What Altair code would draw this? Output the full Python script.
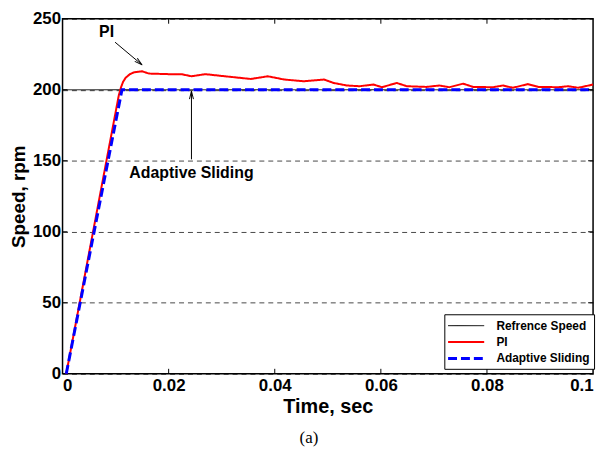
import altair as alt
import pandas as pd

# ---- data ----
ref_t = [0.0, 0.1]
ref_v = [200, 200]

pi_t = [0.0007, 0.0106, 0.0110, 0.0114, 0.0119, 0.0127, 0.0135, 0.015, 0.0163, 0.02, 0.0224, 0.0243,
        0.0269, 0.0306, 0.0355, 0.0387, 0.0418, 0.0455, 0.0493, 0.0511, 0.0536, 0.056,
        0.0586, 0.0602, 0.063, 0.0649, 0.0686, 0.071, 0.0729, 0.0755, 0.0774, 0.0811,
        0.083, 0.0849, 0.0877, 0.0897, 0.0935, 0.0953, 0.0972, 0.1]
pi_v = [0, 196, 201.5, 205.5, 208.5, 211, 212.3, 213, 211.4, 211, 211, 209.5,
        211, 209.5, 207.6, 209.5, 207.2, 206, 207.2, 204.8, 203, 202.5,
        203.7, 201.8, 204.8, 202.5, 202, 203, 201.8, 204.3, 202, 201.8,
        203, 201.4, 204, 202, 201.8, 202.5, 201.4, 203.7]

as_t = [0.0007, 0.0112, 0.1]
as_v = [0, 200, 200]

series_names = ["Refrence Speed", "PI", "Adaptive Sliding"]
series_colors = ["black", "#ff0000", "#0000ff"]
series_dash = [[1, 0], [1, 0], [9, 4]]
series_width = [1, 3, 3]

x_ticks = [0.02, 0.04, 0.06, 0.08]
y_ticks = [50, 100, 150, 200]

# annotations (data units)
ann_text = ["PI", "Adaptive Sliding"]
ann_text_t = [0.0083, 0.0243]
ann_text_v = [241, 141.5]
arrow_t0 = [0.0099, 0.0243]
arrow_v0 = [233.5, 151]
arrow_t1 = [0.0150, 0.0243]
arrow_v1 = [217.5, 199]
arrow_angle = [130, 0]

W, H = 535, 358

rows = []
for name, ts, vs in [(series_names[0], ref_t, ref_v),
                     (series_names[1], pi_t, pi_v),
                     (series_names[2], as_t, as_v)]:
    for i, (t, v) in enumerate(zip(ts, vs)):
        rows.append({"t": t, "v": v, "series": name, "i": i})
df = pd.DataFrame(rows)

ann = pd.DataFrame({"text": ann_text, "t": ann_text_t, "v": ann_text_v})
arr = pd.DataFrame({"t0": arrow_t0, "v0": arrow_v0, "t1": arrow_t1, "v1": arrow_v1,
                    "angle": arrow_angle})
xt = pd.DataFrame({"t": x_ticks})
yt = pd.DataFrame({"v": y_ticks})

FONT = "Liberation Sans"

xscale = alt.Scale(domain=[0, 0.1], nice=False, zero=False)
yscale = alt.Scale(domain=[0, 250], nice=False)

xaxis = alt.Axis(title="Time, sec", values=[0, 0.02, 0.04, 0.06, 0.08, 0.1],
                 labelExpr="datum.value == 0 ? '0' : datum.value == 0.1 ? '0.1' : format(datum.value, '.2f')",
                 grid=False, domain=False, ticks=False, labelPadding=4,
                 labelFont=FONT, labelFontSize=17, labelFontWeight="bold", labelColor="black",
                 titleFont=FONT, titleFontSize=20, titleFontWeight="bold", titleColor="black",
                 titlePadding=3)
yaxis = alt.Axis(title="Speed, rpm", values=[0, 50, 100, 150, 200, 250],
                 grid=True, gridDash=[5, 4], gridColor="black", gridOpacity=0.9, gridWidth=0.8,
                 domain=False, ticks=False, labelPadding=2,
                 labelFont=FONT, labelFontSize=17, labelFontWeight="bold", labelColor="black",
                 titleFont=FONT, titleFontSize=19, titleFontWeight="bold", titleColor="black",
                 titlePadding=4)

lines = alt.Chart(df).mark_line(interpolate="linear").encode(
    x=alt.X("t:Q", scale=xscale, axis=xaxis),
    y=alt.Y("v:Q", scale=yscale, axis=yaxis),
    color=alt.Color("series:N", scale=alt.Scale(domain=series_names, range=series_colors),
                    legend=alt.Legend(title=None)),
    strokeDash=alt.StrokeDash("series:N", scale=alt.Scale(domain=series_names, range=series_dash),
                              legend=alt.Legend(title=None)),
    strokeWidth=alt.StrokeWidth("series:N", scale=alt.Scale(domain=series_names, range=series_width),
                                legend=alt.Legend(title=None)),
    order="i:Q",
)

xt_bot = alt.Chart(xt).mark_rule(color="black", strokeWidth=1).encode(
    x="t:Q", y=alt.value(H), y2=alt.value(H - 5))
xt_top = alt.Chart(xt).mark_rule(color="black", strokeWidth=1).encode(
    x="t:Q", y=alt.value(0), y2=alt.value(5))
yt_left = alt.Chart(yt).mark_rule(color="black", strokeWidth=1).encode(
    y="v:Q", x=alt.value(0), x2=alt.value(5))
yt_right = alt.Chart(yt).mark_rule(color="black", strokeWidth=1).encode(
    y="v:Q", x=alt.value(W), x2=alt.value(W - 5))

ann_txt = alt.Chart(ann).mark_text(font=FONT, fontSize=16, fontWeight="bold", color="black",
                                   baseline="middle", align="center").encode(
    x="t:Q", y="v:Q", text="text:N")
arr_line = alt.Chart(arr).mark_rule(color="black", strokeWidth=1).encode(
    x="t0:Q", y="v0:Q", x2="t1:Q", y2="v1:Q")
arr_head = alt.Chart(arr).mark_point(shape="M-0.4,1.6 L0,0 L0.4,1.6", size=100, filled=False,
                                     color="black", strokeWidth=1, opacity=1).encode(
    x="t1:Q", y="v1:Q", angle=alt.Angle("angle:Q", scale=None))

chart = alt.layer(lines, xt_bot, xt_top, yt_left, yt_right, arr_line, arr_head, ann_txt).properties(
    width=W, height=H,
    title=alt.TitleParams("(a)", orient="bottom", font="Liberation Serif", fontSize=17,
                          fontWeight="normal", color="black", dx=-19, offset=14),
    autosize=alt.AutoSizeParams(type="none"),
    padding={"left": 55, "top": 9, "right": 8, "bottom": 74},
).configure_view(stroke="black", strokeWidth=1.5).configure_legend(
    orient="none", legendX=385, legendY=298, strokeColor="black", fillColor="white",
    padding=4, labelFont=FONT, labelFontSize=12, labelFontWeight="bold", labelColor="black",
    symbolType="M-2.6,0 L2.6,0", symbolSize=196, symbolOffset=9.5, labelOffset=22,
    rowPadding=2, cornerRadius=0, strokeWidth=1
)

chart.save("out.html", embed_options={"renderer": "svg", "actions": False})
